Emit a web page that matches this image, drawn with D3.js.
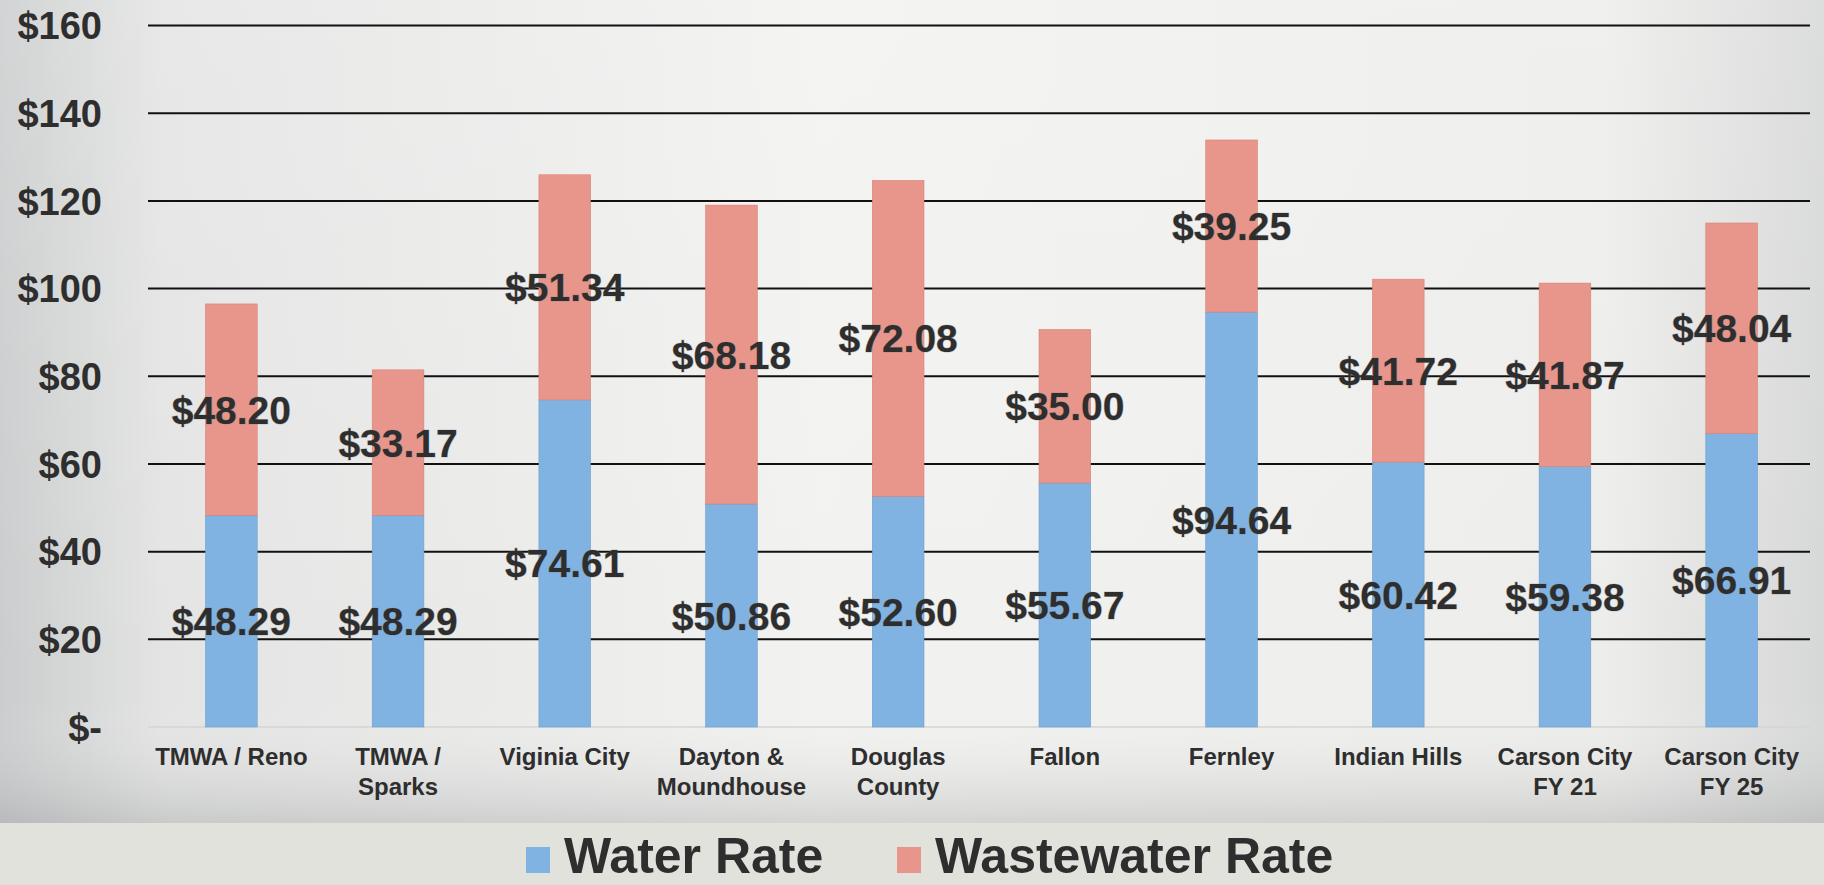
<!DOCTYPE html>
<html>
<head>
<meta charset="utf-8">
<script src="https://cdn.jsdelivr.net/npm/d3@7"></script>
<style>
  html, body { margin: 0; padding: 0; background: #e1e2dd; overflow: hidden; }
  svg { display: block; font-family: "Liberation Sans", Arial, sans-serif; }
</style>
</head>
<body>
<svg id="chart"></svg>
<script>
const width = 1824;
const height = 885;

// data
const places = [
    ["TMWA / Reno"], ["TMWA /", "Sparks"], ["Viginia City"], ["Dayton &", "Moundhouse"],
    ["Douglas", "County"], ["Fallon"], ["Fernley"], ["Indian Hills"],
    ["Carson City", "FY 21"], ["Carson City", "FY 25"]
];
const waterRate = [48.29, 48.29, 74.61, 50.86, 52.60, 55.67, 94.64, 60.42, 59.38, 66.91];
const wastewaterRate = [48.20, 33.17, 51.34, 68.18, 72.08, 35.00, 39.25, 41.72, 41.87, 48.04];
const yTicks = [0, 20, 40, 60, 80, 100, 120, 140, 160];
const seriesNames = ["Water Rate", "Wastewater Rate"];

const waterColor = "#80b3e2";
const wasteColor = "#e8968c";
const textColor = "#2e2e2e";

const svg = d3.select("#chart")
    .attr("width", width)
    .attr("height", height);

// scanned-paper look for the background
const defs = svg.append("defs");
const hGrad = defs.append("linearGradient").attr("id", "hGrad");
hGrad.append("stop").attr("offset", "0%").attr("stop-color", "#cbcccd");
hGrad.append("stop").attr("offset", "9%").attr("stop-color", "#e3e4e3");
hGrad.append("stop").attr("offset", "45%").attr("stop-color", "#f2f2f0");
hGrad.append("stop").attr("offset", "88%").attr("stop-color", "#ededeb");
hGrad.append("stop").attr("offset", "100%").attr("stop-color", "#d6d7d7");

const vGrad = defs.append("linearGradient").attr("id", "vGrad")
    .attr("x1", 0).attr("x2", 0).attr("y1", 0).attr("y2", 1);
vGrad.append("stop").attr("offset", "0%").attr("stop-color", "#ffffff").attr("stop-opacity", 0.15);
vGrad.append("stop").attr("offset", "85%").attr("stop-color", "#ffffff").attr("stop-opacity", 0);
vGrad.append("stop").attr("offset", "100%").attr("stop-color", "#8d8e90").attr("stop-opacity", 0.3);

svg.append("rect").attr("width", width).attr("height", height).attr("fill", "#e1e2dc");
svg.append("rect").attr("width", width).attr("height", 823).attr("fill", "url(#hGrad)");
svg.append("rect").attr("width", width).attr("height", 823).attr("fill", "url(#vGrad)");

const x = d3.scaleBand()
    .domain(d3.range(places.length))
    .range([148, 1815])
    .paddingInner(0.69)
    .paddingOuter(0.345);

const y = d3.scaleLinear()
    .domain([0, 160])
    .range([727, 25.5]);

// gridlines + y labels
const yAxis = d3.axisLeft(y)
    .tickValues(yTicks)
    .tickSize(0)
    .tickPadding(0)
    .tickFormat(d => d === 0 ? "$-" : "$" + d);

const gy = svg.append("g")
    .attr("transform", "translate(102,0)")
    .call(yAxis);
gy.select(".domain").remove();
gy.selectAll("text")
    .attr("font-size", 38)
    .attr("font-weight", "bold")
    .attr("font-family", "Liberation Sans, Arial, sans-serif")
    .attr("fill", textColor)
    .attr("dy", "0.35em");

svg.append("g")
    .selectAll("line")
    .data(yTicks.filter(d => d > 0))
    .join("line")
    .attr("x1", 148)
    .attr("x2", 1810)
    .attr("y1", d => y(d))
    .attr("y2", d => y(d))
    .attr("stroke", "#111")
    .attr("stroke-width", 2);

svg.append("line")
    .attr("x1", 148).attr("x2", 1810)
    .attr("y1", y(0)).attr("y2", y(0))
    .attr("stroke", "#d4d4d2")
    .attr("stroke-width", 1.5);

// stacked bars
const rows = places.map((p, i) => ({ i: i, water: waterRate[i], waste: wastewaterRate[i] }));
const stack = d3.stack().keys(["water", "waste"])(rows);
const colors = [waterColor, wasteColor];

stack.forEach((layer, k) => {
    svg.append("g")
        .selectAll("rect")
        .data(layer)
        .join("rect")
        .attr("x", d => x(d.data.i))
        .attr("y", d => y(d[1]))
        .attr("width", x.bandwidth())
        .attr("height", d => y(d[0]) - y(d[1]))
        .attr("fill", colors[k])
        .attr("stroke", k === 0 ? "#6d9fcf" : "#d98075")
        .attr("stroke-width", 0.6);
});

// value labels in the middle of each segment
stack.forEach((layer) => {
    svg.append("g")
        .selectAll("text")
        .data(layer)
        .join("text")
        .attr("x", d => x(d.data.i) + x.bandwidth() / 2)
        .attr("y", d => y((d[0] + d[1]) / 2))
        .attr("dy", "0.36em")
        .attr("text-anchor", "middle")
        .attr("font-size", 39)
        .attr("font-weight", "bold")
        .attr("fill", textColor)
        .attr("stroke", "rgba(120,120,120,0.35)")
        .attr("stroke-width", 1.2)
        .attr("paint-order", "stroke")
        .text(d => "$" + (d[1] - d[0]).toFixed(2));
});

// category labels
const xl = svg.append("g")
    .selectAll("text")
    .data(places)
    .join("text")
    .attr("x", (d, i) => x(i) + x.bandwidth() / 2)
    .attr("y", 765)
    .attr("text-anchor", "middle")
    .attr("font-size", 24)
    .attr("font-weight", "bold")
    .attr("fill", textColor);
xl.selectAll("tspan")
    .data(d => d)
    .join("tspan")
    .attr("x", function () { return this.parentNode.getAttribute("x"); })
    .attr("dy", (d, j) => j === 0 ? 0 : 30)
    .text(d => d);

// legend
const legendX = [526, 897];
const legend = svg.append("g")
    .selectAll("g")
    .data(seriesNames)
    .join("g")
    .attr("transform", (d, i) => "translate(" + legendX[i] + ",0)");
legend.append("rect")
    .attr("y", 847)
    .attr("width", 24)
    .attr("height", 26)
    .attr("fill", (d, i) => colors[i]);
legend.append("text")
    .attr("x", 38)
    .attr("y", 873)
    .attr("font-size", 50)
    .attr("font-weight", "bold")
    .attr("fill", textColor)
    .text(d => d);
</script>
</body>
</html>
